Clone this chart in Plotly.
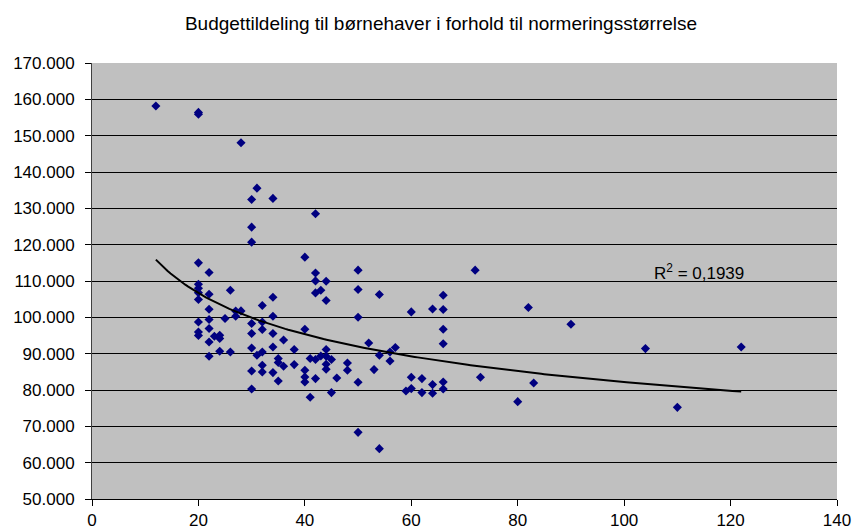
import numpy as np
import plotly.graph_objects as go

# Normeringsstørrelse (x) and budgettildeling (y)
normering = (
    [12]
    + [20] * 10
    + [22] * 7
    + [23]
    + [24] * 3
    + [25]
    + [26] * 2
    + [27] * 2
    + [28] * 2
    + [30] * 8
    + [31] * 2
    + [32] * 6
    + [34] * 6
    + [35] * 3
    + [36] * 2
    + [38] * 2
    + [40] * 5
    + [41] * 2
    + [42] * 6
    + [43] * 2
    + [44] * 6
    + [45] * 2
    + [46]
    + [48] * 2
    + [50] * 5
    + [52, 53]
    + [54] * 3
    + [56] * 2
    + [57, 59]
    + [60] * 3
    + [62] * 2
    + [64] * 3
    + [66] * 6
    + [72, 73, 80, 82, 83, 90, 104, 110, 122]
)
budget = [
    158150,
    156400, 155900, 114990, 109120, 108000, 106800, 104900, 98730, 95980, 95000,
    112340, 106360, 102230, 99390, 96910, 93220, 89280,
    94800,
    95070, 94160, 90660,
    99670,
    107470, 90470,
    101760, 100300,
    148040, 101770,
    132450, 124820, 120690, 98290, 95540, 91570, 85230, 80290,
    135560, 89560,
    103250, 98730, 96640, 90470, 86800, 84960,
    132730, 105540, 100300, 95540, 91850, 84790,
    88650, 87550, 82480,
    93780, 86530,
    91130, 86990,
    116560, 96720, 85430, 83580, 82200,
    88650, 77990,
    128490, 112220, 110030, 106730, 88380, 83140,
    107460, 89370,
    109940, 104630, 91130, 89280, 87080, 85700,
    88380, 79280,
    83300,
    87440, 85430,
    112980, 107660, 100030, 82120, 68350,
    92950, 85620,
    106280, 89560, 63860,
    90470, 87990,
    91680, 79720,
    101490, 83500, 80380,
    83140, 79280,
    102310, 81490, 79090,
    106090, 102150, 96720, 92730, 82200, 80270,
    112980, 83500, 76800, 102700, 81930, 98100, 91400, 75230, 91850,
]

title_text = "Budgettildeling til børnehaver i forhold til normeringsstørrelse"
r2_label = "R<sup>2</sup> = 0,1939"

x = np.array(normering, dtype=float)
y = np.array(budget, dtype=float)

# Power trendline (as in the spreadsheet): ln y = ln a + b ln x
b, lna = np.polyfit(np.log(x), np.log(y), 1)
tx = np.linspace(x.min(), x.max(), 200)
ty = np.exp(lna) * tx ** b

font = "Liberation Sans, Arial, sans-serif"

fig = go.Figure()
fig.add_trace(go.Scatter(
    x=x, y=y, mode="markers",
    marker=dict(symbol="diamond", size=7, color="#000080", line=dict(width=0)),
    hoverinfo="x+y", showlegend=False,
))
fig.add_trace(go.Scatter(
    x=tx, y=ty, mode="lines",
    line=dict(color="black", width=2),
    hoverinfo="skip", showlegend=False,
))

fig.update_layout(
    width=855, height=532,
    margin=dict(l=92, r=18, t=63, b=33, autoexpand=False),
    paper_bgcolor="white",
    plot_bgcolor="#C0C0C0",
    separators=",.",
    font=dict(family=font, size=17, color="black"),
    title=dict(
        text=title_text, x=441 / 855, xref="container", xanchor="center",
        y=1 - 23 / 532, yref="container", yanchor="middle",
        font=dict(family=font, size=19, color="black"),
    ),
    xaxis=dict(
        range=[0, 140], dtick=20, tick0=0,
        showgrid=False, zeroline=False, automargin=False,
        showline=True, linecolor="black", linewidth=1,
        ticks="outside", ticklen=6, tickcolor="black",
        tickfont=dict(family=font, size=17, color="black"),
    ),
    yaxis=dict(
        range=[50000, 170000], dtick=10000, tick0=50000,
        tickformat=",d", automargin=False,
        showgrid=True, gridcolor="black", gridwidth=1,
        zeroline=False,
        showline=True, linecolor="#404040", linewidth=1,
        ticks="outside", ticklen=6, tickcolor="black",
        ticklabelstandoff=7,
        tickfont=dict(family=font, size=17, color="black"),
    ),
    annotations=[dict(
        text=r2_label, x=114, y=112400, xref="x", yref="y",
        showarrow=False, xanchor="center", yanchor="middle",
        font=dict(family=font, size=17, color="black"),
    )],
)

fig.write_html(
    "out.html",
    config={"displayModeBar": False},
    post_script="document.body.style.margin='0';document.body.style.padding='0';",
)
